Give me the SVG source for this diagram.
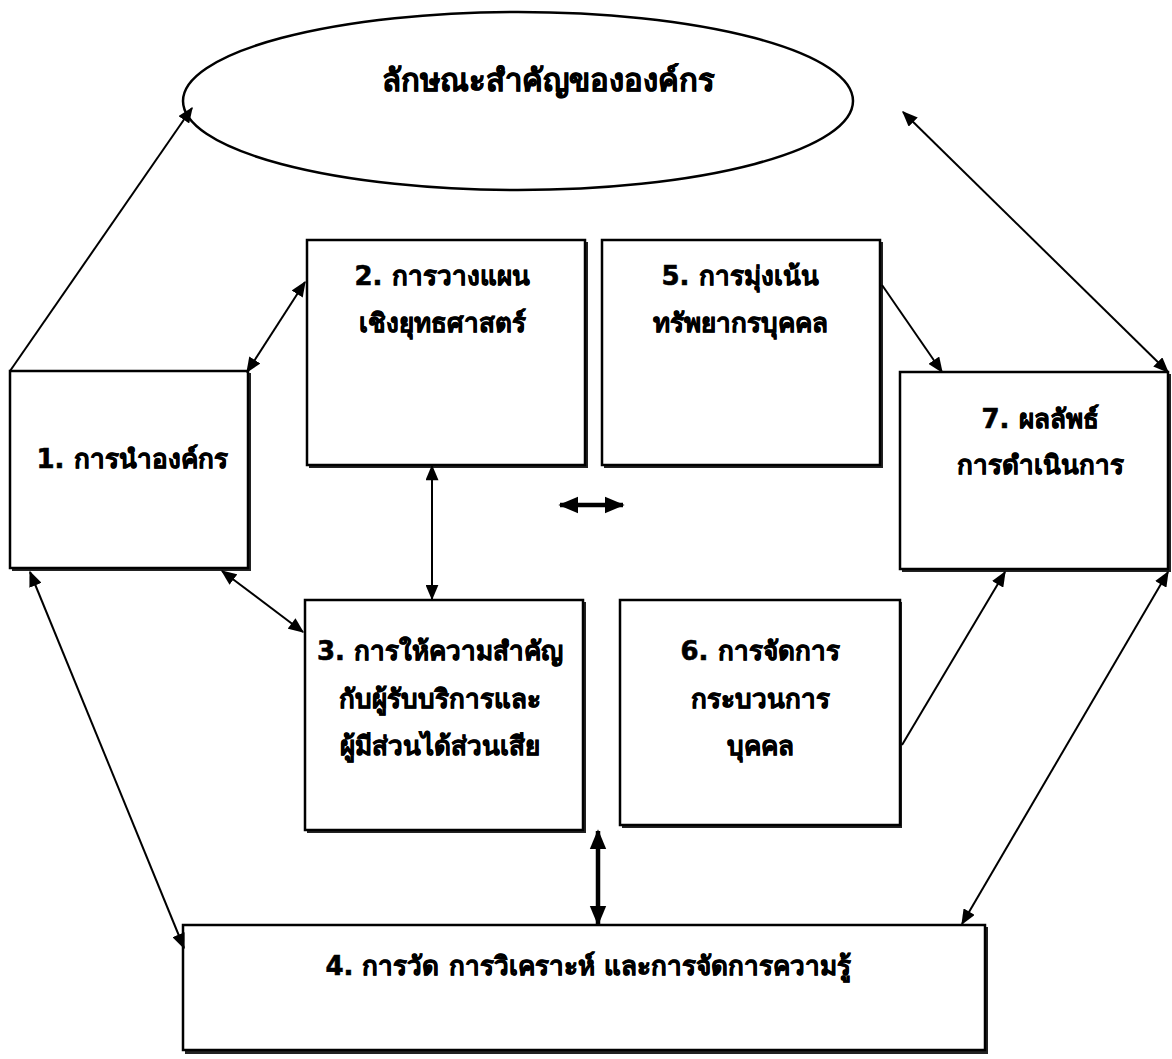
<svg xmlns="http://www.w3.org/2000/svg" width="1172" height="1059" viewBox="0 0 1172 1059">
<defs>
<style>
.box{fill:#fff;stroke:#000;stroke-width:2.5}
.sh{fill:#222}
.t{font-family:"DejaVu Sans","Liberation Serif",serif;font-weight:bold;font-size:26px;fill:#000;stroke:#000;stroke-width:0.6;text-anchor:middle}
.c{stroke:#000;stroke-width:2;fill:none}
.ct{stroke:#000;stroke-width:4.5;fill:none}
</style>
<marker id="a" viewBox="0 0 12 10" refX="11" refY="5" markerWidth="8" markerHeight="6.5" markerUnits="strokeWidth" orient="auto-start-reverse"><path d="M0,0L12,5L0,10z" fill="#000"/></marker>
<marker id="ab" viewBox="0 0 12 10" refX="11" refY="5" markerWidth="4.4" markerHeight="4" markerUnits="strokeWidth" orient="auto-start-reverse"><path d="M0,0L12,5L0,10z" fill="#000"/></marker>
</defs>
<rect width="1172" height="1059" fill="#fff"/>
<g id="n0">
<ellipse cx="518" cy="101" rx="335" ry="89" fill="#fff" stroke="#000" stroke-width="2.5"/>
<text class="t" x="548" y="91" style="font-size:31px">ลักษณะสำคัญขององค์กร</text>
</g>
<g id="n1">
<rect class="sh" x="12" y="373" width="239" height="198"/>
<rect class="box" x="10" y="371" width="238" height="197"/>
<text class="t" x="132" y="468">1.  การนำองค์กร</text>
</g>
<g id="n2">
<rect class="sh" x="309" y="242" width="279" height="226"/>
<rect class="box" x="307" y="240" width="278" height="225"/>
<text class="t" x="442" y="285">2.  การวางแผน</text>
<text class="t" x="442" y="332">เชิงยุทธศาสตร์</text>
</g>
<g id="n5">
<rect class="sh" x="604" y="242" width="279" height="226"/>
<rect class="box" x="602" y="240" width="278" height="225"/>
<text class="t" x="740" y="285">5. การมุ่งเน้น</text>
<text class="t" x="740" y="332">ทรัพยากรบุคคล</text>
</g>
<g id="n7">
<rect class="sh" x="902" y="374" width="269" height="198"/>
<rect class="box" x="900" y="372" width="268" height="197"/>
<text class="t" x="1040" y="428">7. ผลลัพธ์</text>
<text class="t" x="1040" y="474">การดำเนินการ</text>
</g>
<g id="n3">
<rect class="sh" x="307" y="602" width="279" height="231"/>
<rect class="box" x="305" y="600" width="278" height="230"/>
<text class="t" x="440" y="660">3. การให้ความสำคัญ</text>
<text class="t" x="440" y="708">กับผู้รับบริการและ</text>
<text class="t" x="440" y="755">ผู้มีส่วนได้ส่วนเสีย</text>
</g>
<g id="n6">
<rect class="sh" x="622" y="602" width="280" height="226"/>
<rect class="box" x="620" y="600" width="280" height="225"/>
<text class="t" x="760" y="660">6. การจัดการ</text>
<text class="t" x="760" y="708">กระบวนการ</text>
<text class="t" x="760" y="755">บุคคล</text>
</g>
<g id="n4">
<rect class="sh" x="185" y="927" width="803" height="127"/>
<rect class="box" x="183" y="925" width="802" height="125"/>
<text class="t" x="588" y="975">4. การวัด การวิเคราะห์ และการจัดการความรู้</text>
</g>
<g id="connectors">
<line class="c" x1="10" y1="371" x2="192" y2="108" marker-end="url(#a)"/>
<line class="c" x1="247" y1="372" x2="305" y2="282" marker-start="url(#a)" marker-end="url(#a)"/>
<line class="c" x1="903" y1="112" x2="1168" y2="372" marker-start="url(#a)" marker-end="url(#a)"/>
<line class="c" x1="882" y1="285" x2="942" y2="372" marker-end="url(#a)"/>
<line class="c" x1="432" y1="466" x2="432" y2="599" marker-start="url(#a)" marker-end="url(#a)"/>
<line class="ct" x1="560" y1="505" x2="623" y2="505" marker-start="url(#ab)" marker-end="url(#ab)"/>
<line class="c" x1="222" y1="571" x2="303" y2="632" marker-start="url(#a)" marker-end="url(#a)"/>
<line class="c" x1="902" y1="745" x2="1005" y2="572" marker-end="url(#a)"/>
<line class="c" x1="30" y1="572" x2="184" y2="948" marker-start="url(#a)" marker-end="url(#a)"/>
<line class="c" x1="1168" y1="572" x2="962" y2="924" marker-start="url(#a)" marker-end="url(#a)"/>
<line class="ct" x1="598" y1="831" x2="598" y2="924" marker-start="url(#ab)" marker-end="url(#ab)"/>
</g>
</svg>
